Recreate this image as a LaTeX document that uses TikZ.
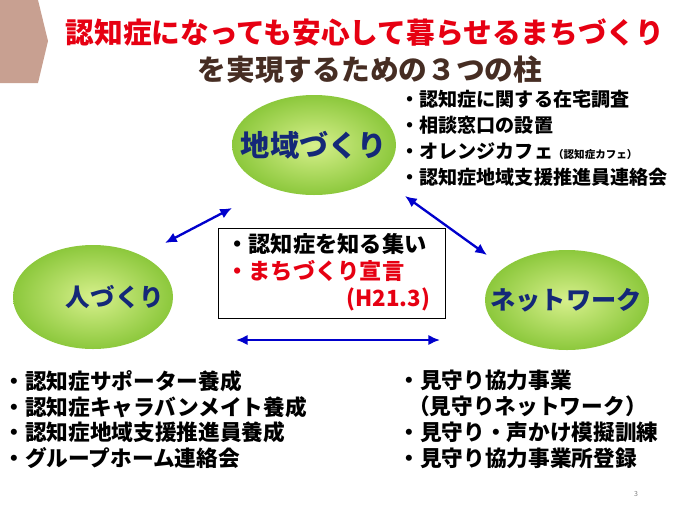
\documentclass[tikz,border=0pt]{standalone}
\usepackage{fontspec}
\setmainfont{Noto Sans CJK JP}
\usetikzlibrary{arrows.meta}
\definecolor{titlered}{RGB}{230,0,18}
\definecolor{titlebrown}{RGB}{70,45,35}
\definecolor{navy}{RGB}{20,40,120}
\definecolor{leaf}{RGB}{140,200,60}
\definecolor{pale}{RGB}{215,240,140}
\definecolor{tab}{RGB}{200,160,145}
\begin{document}
\begin{tikzpicture}[x=0.03cm,y=-0.03cm,semithick,
  link/.style={{Latex[length=10pt,width=9pt]}-{Latex[length=10pt,width=9pt]},blue!80!black,line width=2pt},
  item/.style={align=left,font=\bfseries\fontsize{17}{22}\selectfont,text=black,inner sep=0pt}]
\useasboundingbox (0,0) rectangle (690,518);
\fill[tab] (0,0) -- (38,0) -- (48,41) -- (38,83) -- (0,83) -- cycle;
\node[text=titlered,font=\bfseries\fontsize{24.5}{28}\selectfont] (title) at (365,33) {認知症になっても安心して暮らせるまちづくり};
\node[text=titlebrown,font=\bfseries\fontsize{24.5}{28}\selectfont] (sub) at (370,70) {を実現するための３つの柱};
\shade[inner color=pale,outer color=leaf] (314,145) ellipse [x radius=82,y radius=50];
\shade[inner color=pale,outer color=leaf] (93,297) ellipse [x radius=80,y radius=52];
\shade[inner color=pale,outer color=leaf] (567,300) ellipse [x radius=82,y radius=50];
\node[text=navy,font=\bfseries\fontsize{25}{28}\selectfont] (area) at (314,145) {地域づくり};
\node[text=navy,font=\bfseries\fontsize{21}{24}\selectfont] (people) at (115,297) {人づくり};
\node[text=navy,font=\bfseries\fontsize{21.5}{24}\selectfont] (net) at (566,300) {ネットワーク};
\coordinate (a1) at (165,243); \coordinate (a2) at (232,208);
\coordinate (b1) at (405,196); \coordinate (b2) at (487,255);
\coordinate (c1) at (236,340); \coordinate (c2) at (440,340);
\draw[link] (a1) -- (a2);
\draw[link] (b1) -- (b2);
\draw[link] (c1) -- (c2);
\draw[thin] (218,228) rectangle (445,318);
\node[item,anchor=north west,font=\bfseries\fontsize{19}{23}\selectfont] (meet) at (226,233) {・認知症を知る集い\\{\color{titlered}・まちづくり宣言}\\\hspace*{5.4em}{\color{titlered}(H21.3)}};
\node[item,anchor=north west,font=\bfseries\fontsize{16.3}{22}\selectfont] (areaitems) at (400,90) {・認知症に関する在宅調査\\・相談窓口の設置\\・オレンジカフェ{\fontsize{9}{10}\selectfont（認知症カフェ）}\\・認知症地域支援推進員連絡会};
\node[item,anchor=north west,font=\bfseries\fontsize{18.5}{22}\selectfont] (peopleitems) at (3,370) {・認知症サポーター養成\\・認知症キャラバンメイト養成\\・認知症地域支援推進員養成\\・グループホーム連絡会};
\node[item,anchor=north west,font=\bfseries\fontsize{18.5}{22}\selectfont] (netitems) at (398,370) {・見守り協力事業\\\ \ （見守りネットワーク）\\・見守り・声かけ模擬訓練\\・見守り協力事業所登録};
\node[font=\fontsize{6}{7}\selectfont,text=gray] (page) at (636,494) {3};
\end{tikzpicture}
\end{document}
